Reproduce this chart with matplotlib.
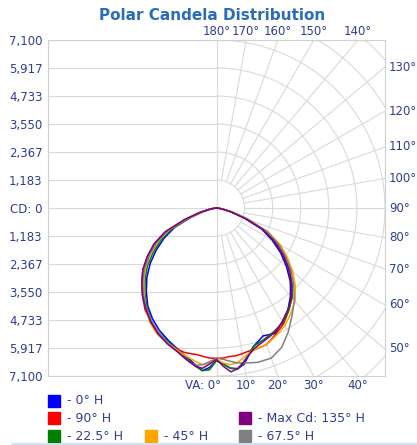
import numpy as np
import matplotlib
matplotlib.use('Agg')
import matplotlib.pyplot as plt
from matplotlib.patches import Arc, Rectangle

# vertical angles (0 = nadir); right half = plane, left half = plane + 180
vert_angles = [0, 2.5, 5, 7.5, 10, 12.5, 15, 20, 25, 30, 35, 40, 45, 50, 55,
               60, 65, 70, 75, 80, 85, 90]

h0_right = [6450, 6600, 6800, 6850, 6700, 6350, 6050, 5750, 5850, 5550, 5250,
            4850, 4400, 3850, 3300, 2700, 2100, 1250, 620, 240, 60, 0]
h0_left = [6450, 6750, 6900, 6700, 6500, 6350, 6200, 5950, 5700, 5400, 5050,
           4600, 4150, 3650, 3100, 2550, 1950, 1150, 560, 210, 50, 0]
h90_right = [6350, 6350, 6300, 6300, 6250, 6200, 6200, 6150, 5900, 5650, 5300,
             4950, 4500, 4050, 3500, 2950, 2300, 1400, 700, 280, 80, 0]
h90_left = [6350, 6350, 6300, 6250, 6250, 6250, 6200, 6050, 5850, 5550, 5250,
            4850, 4450, 4050, 3550, 3000, 2350, 1400, 720, 290, 80, 0]
h22_right = [6450, 6600, 6800, 6850, 6650, 6300, 6050, 5900, 5750, 5600, 5300,
             4950, 4500, 3950, 3400, 2850, 2200, 1300, 650, 250, 70, 0]
h22_left = [6450, 6850, 6900, 6750, 6550, 6400, 6250, 6000, 5800, 5500, 5100,
            4700, 4250, 3800, 3250, 2700, 2050, 1200, 600, 230, 60, 0]
h45_right = [6400, 6550, 6650, 6600, 6450, 6300, 6200, 6150, 5950, 5750, 5450,
             5150, 4700, 4200, 3650, 3100, 2400, 1450, 720, 290, 80, 0]
h45_left = [6400, 6550, 6650, 6550, 6450, 6350, 6250, 6050, 5900, 5600, 5200,
            4750, 4350, 3900, 3400, 2850, 2200, 1300, 650, 250, 70, 0]
h67_right = [6350, 6400, 6500, 6600, 6650, 6700, 6750, 6750, 6500, 6050, 5550,
             5100, 4600, 4100, 3550, 3000, 2350, 1420, 710, 280, 80, 0]
h67_left = [6350, 6500, 6650, 6700, 6600, 6450, 6300, 6050, 5800, 5500, 5150,
            4800, 4400, 3950, 3450, 2900, 2250, 1320, 660, 260, 70, 0]
h135_right = [6400, 6700, 6950, 6850, 6600, 6350, 6150, 5950, 5800, 5550, 5250,
              4900, 4450, 3950, 3400, 2800, 2150, 1280, 640, 250, 70, 0]
h135_left = [6400, 6600, 6800, 6750, 6600, 6450, 6300, 6100, 5850, 5550, 5200,
             4850, 4450, 4050, 3550, 3050, 2400, 1450, 740, 300, 80, 0]

series = [
    ('- 0° H', '#0000ff', h0_right, h0_left),
    ('- 90° H', '#ff0000', h90_right, h90_left),
    ('- 22.5° H', '#008000', h22_right, h22_left),
    ('- 45° H', '#ffa500', h45_right, h45_left),
    ('- 67.5° H', '#808080', h67_right, h67_left),
    ('- Max Cd: 135° H', '#800080', h135_right, h135_left),
]

max_cd = 7100
cd_ticks = [7100, 5917, 4733, 3550, 2367, 1183, 0, -1183, -2367, -3550, -4733, -5917, -7100]
cd_labels = ['7,100', '5,917', '4,733', '3,550', '2,367', '1,183', 'CD: 0',
             '1,183', '2,367', '3,550', '4,733', '5,917', '7,100']
top_angles = [180, 170, 160, 150, 140]
right_angles = [130, 120, 110, 100, 90, 80, 70, 60, 50]
bottom_angles = [0, 10, 20, 30, 40]

grid_c = '#d9d9d9'
lab_c = '#2f3f8f'
title_c = '#2a6cb8'

fig = plt.figure(figsize=(4.17, 4.45), dpi=100)
ax = fig.add_axes([48 / 417, 1 - 376 / 445, 337 / 417, 336 / 445])
ax.set_xlim(-max_cd, max_cd)
ax.set_ylim(-max_cd, max_cd)

# left half: horizontal grid lines
for t in cd_ticks:
    ax.plot([-max_cd, 0], [t, t], color=grid_c, lw=0.8, zorder=1)
ax.plot([0, 0], [-max_cd, max_cd], color=grid_c, lw=0.8, zorder=1)

# right half: polar grid
step = max_cd / 6
for k in range(1, 9):
    ax.add_patch(Arc((0, 0), 2 * k * step, 2 * k * step, theta1=-90, theta2=90,
                     color=grid_c, lw=0.8, zorder=1))
for a in range(10, 180, 10):
    r = np.radians(a)
    ax.plot([step * np.sin(r), 3 * max_cd * np.sin(r)],
            [-step * np.cos(r), -3 * max_cd * np.cos(r)],
            color=grid_c, lw=0.8, zorder=1)

# curves
va = np.radians(vert_angles)
for name, col, right, left in series:
    right = np.array(right, dtype=float)
    left = np.array(left, dtype=float)
    x = np.concatenate([-(left * np.sin(va))[::-1], right * np.sin(va)])
    y = np.concatenate([-(left * np.cos(va))[::-1], -right * np.cos(va)])
    ax.plot(x, y, color=col, lw=1.1, zorder=3)

ax.set_xticks([])
ax.set_yticks(cd_ticks)
ax.set_yticklabels(cd_labels, color=lab_c, fontsize=8.5)
ax.tick_params(axis='y', length=0, pad=4)
for s in ax.spines.values():
    s.set_color('#d0d0d0')
    s.set_linewidth(0.8)

# angle labels
for a in top_angles:
    x = max_cd * np.tan(np.radians(180 - a))
    ax.annotate(f'{a}°', (x, max_cd), xytext=(0, 1.5), textcoords='offset points',
                ha='center', va='bottom', color=lab_c, fontsize=8.5, annotation_clip=False)
for a in right_angles:
    y = -max_cd * np.cos(np.radians(a)) / np.sin(np.radians(a))
    ax.annotate(f'{a}°', (max_cd, y), xytext=(3, 0), textcoords='offset points',
                ha='left', va='center', color=lab_c, fontsize=8.5, annotation_clip=False)
for a in bottom_angles:
    x = max_cd * np.tan(np.radians(a))
    txt = 'VA: 0°' if a == 0 else f'{a}°'
    dx = -10 if a == 0 else 0
    ax.annotate(txt, (x, -max_cd), xytext=(dx, -2), textcoords='offset points',
                ha='center', va='top', color=lab_c, fontsize=8.5, annotation_clip=False)

fig.text(212 / 417, 1 - 15 / 445, 'Polar Candela Distribution', ha='center', va='center',
         color=title_c, fontsize=11, fontweight='bold')

# legend
legend_pos = [(48, 401), (48, 418), (48, 436), (145, 436), (239, 436), (239, 418)]
for (name, col, _, _), (lx, ly) in zip(series, legend_pos):
    fig.patches.append(Rectangle((lx / 417, 1 - (ly + 6) / 445), 12 / 417, 12 / 445,
                                 transform=fig.transFigure, color=col))
    fig.text((lx + 19) / 417, 1 - ly / 445, name, ha='left', va='center',
             color=lab_c, fontsize=9)

fig.add_artist(plt.Line2D([12 / 417, 1], [1 - 443.5 / 445] * 2, transform=fig.transFigure,
                          color='#c8dcf0', lw=1.2))

fig.savefig('out.png', dpi=100)
